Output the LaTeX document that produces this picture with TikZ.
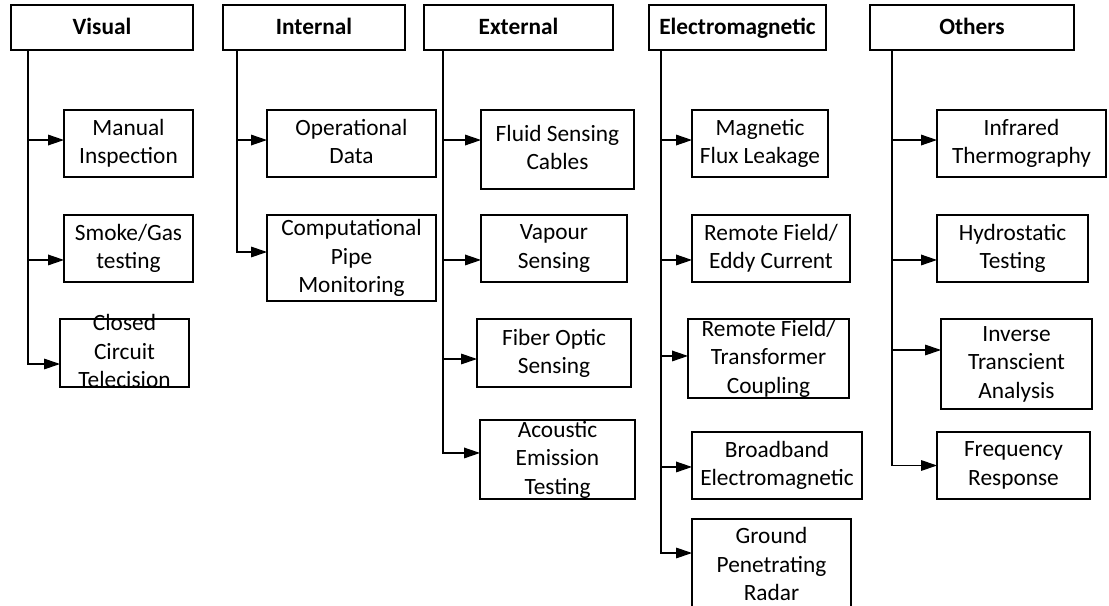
\documentclass[tikz,border=0pt]{standalone}
\usepackage{fontspec}
\setmainfont{Carlito}
\usetikzlibrary{arrows.meta,fit}

\tikzset{
  x=0.75pt, y=-0.75pt,
  boxframe/.style={draw=black, line width=0.85pt, inner sep=0pt, outer sep=0pt, rectangle},
  headtext/.style={inner sep=0pt, anchor=base, font=\fontsize{17.5}{21.3}\selectfont\bfseries},
  plaintext/.style={inner sep=0pt, align=center, font=\fontsize{17.5}{21.3}\selectfont},
  leaftext/.style={plaintext, yshift=-1.8pt,
    execute at begin node=\strut, execute at end node=\strut},
  lowtext/.style={plaintext, yshift=2pt},
  conn/.style={draw=black, line width=0.85pt, -{Triangle[length=12pt,width=8pt]}},
}

% box drawn from its corners, with its text centred separately so it may overflow
\newcommand\leafbox[7][leaftext]{%
  \node[boxframe, fit={(#3,#4) (#5,#6)}] (#2) {};
  \node[#1] (#2-t) at (#2.center) {#7};
}
% header box: text sits on a common baseline 11.25pt above the lower edge
\newcommand\headbox[6]{%
  \node[boxframe, fit={(#2,#3) (#4,#5)}] (#1) {};
  \node[headtext] (#1-t) at ([yshift=11.25pt]#1.south) {#6};
}

\begin{document}
\begin{tikzpicture}
\useasboundingbox (0,0) rectangle (1109,606);
\clip (0,0) rectangle (1109,606);

% category headers
\headbox{vis}{11}{5}{193}{50}{Visual}
\headbox{int}{223}{5}{405}{50}{Internal}
\headbox{ext}{424}{5}{613}{50}{External}
\headbox{em}{649}{5}{826}{50}{Electromagnetic}
\headbox{oth}{870}{5}{1074}{50}{Others}

% Visual
\leafbox{mi}{64}{110}{193}{177}{Manual\\Inspection}
\leafbox{sg}{64}{215}{193}{282}{Smoke/Gas\\testing}
\leafbox{cc}{60}{319}{189}{387}{Closed\\Circuit\\Telecision}

% Internal
\leafbox{od}{267}{110}{436}{177}{Operational\\Data}
\leafbox{cp}{267}{215}{436}{301}{Computational\\Pipe\\Monitoring}

% External
\leafbox{fs}{481}{110}{634}{189}{Fluid Sensing\\Cables}
\leafbox{vs}{481}{215}{627}{282}{Vapour\\Sensing}
\leafbox{fo}{477}{319}{631}{387}{Fiber Optic\\Sensing}
\leafbox{ae}{480}{420}{635}{499}{Acoustic\\Emission\\Testing}

% Electromagnetic
\leafbox{mf}{692}{110}{828}{177}{Magnetic\\Flux Leakage}
\leafbox{ec}{692}{215}{850}{282}{Remote Field/\\Eddy Current}
\leafbox{tc}{688}{319}{849}{398}{Remote Field/\\Transformer\\Coupling}
\leafbox{be}{692}{432}{862}{499}{Broadband\\Electromagnetic}
\leafbox[lowtext]{gp}{692}{519}{851}{615}{Ground\\Penetrating\\Radar}

% Others
\leafbox{it}{937}{110}{1106}{177}{Infrared\\Thermography}
\leafbox{ht}{937}{215}{1088}{282}{Hydrostatic\\Testing}
\leafbox{ia}{941}{319}{1092}{409}{Inverse\\Transcient\\Analysis}
\leafbox{fr}{937}{432}{1090}{499}{Frequency\\Response}

% branches: trunk down from each header, then across to each method
\draw[conn] ([xshift=12.75pt]vis.south west) |- ([yshift=2.6pt]mi.west);
\draw[conn] ([xshift=12.75pt]vis.south west) |- ([yshift=-8.6pt]sg.west);
\draw[conn] ([xshift=12.75pt]vis.south west) |- ([yshift=-8.25pt]cc.west);

\draw[conn] ([xshift=10.5pt]int.south west) |- ([yshift=2.6pt]od.west);
\draw[conn] ([xshift=10.5pt]int.south west) |- ([yshift=4.5pt]cp.west);

\draw[conn] ([xshift=14.25pt]ext.south west) |- ([yshift=7.1pt]fs.west);
\draw[conn] ([xshift=14.25pt]ext.south west) |- ([yshift=-8.6pt]vs.west);
\draw[conn] ([xshift=14.25pt]ext.south west) |- ([yshift=-4.5pt]fo.west);
\draw[conn] ([xshift=14.25pt]ext.south west) |- ([yshift=4.9pt]ae.west);

\draw[conn] ([xshift=9pt]em.south west) |- ([yshift=2.6pt]mf.west);
\draw[conn] ([xshift=9pt]em.south west) |- ([yshift=-8.6pt]ec.west);
\draw[conn] ([xshift=9pt]em.south west) |- ([yshift=1.9pt]tc.west);
\draw[conn] ([xshift=9pt]em.south west) |- ([yshift=-1.1pt]be.west);
\draw[conn] ([xshift=9pt]em.south west) |- ([yshift=10.5pt]gp.west);

\draw[conn] ([xshift=16.5pt]oth.south west) |- ([yshift=2.6pt]it.west);
\draw[conn] ([xshift=16.5pt]oth.south west) |- ([yshift=-8.6pt]ht.west);
\draw[conn] ([xshift=16.5pt]oth.south west) |- ([yshift=10.5pt]ia.west);
\draw[conn] ([xshift=16.5pt]oth.south west) |- (fr.west);
\end{tikzpicture}
\end{document}
